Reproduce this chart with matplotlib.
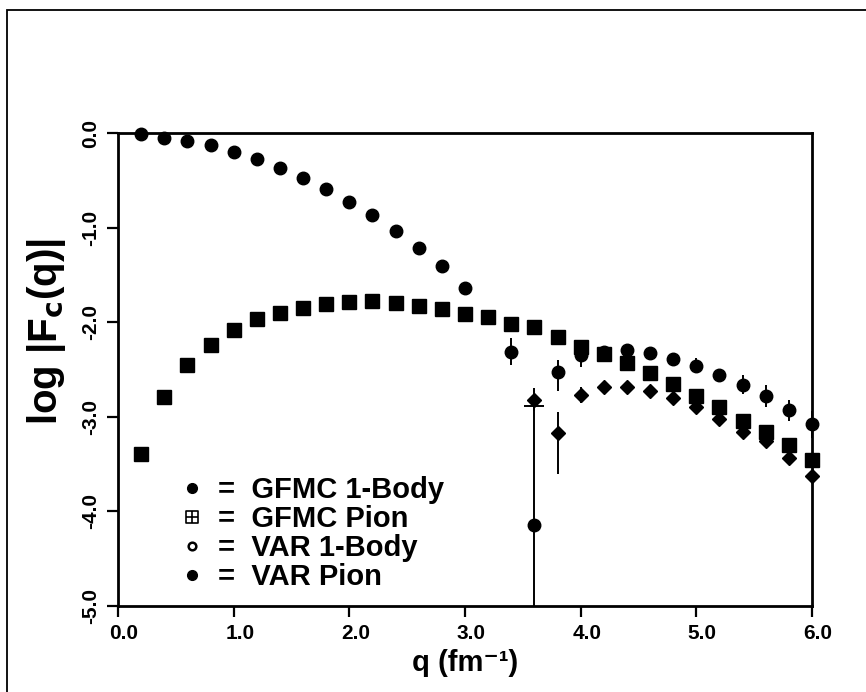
import numpy as np
import matplotlib
matplotlib.use("Agg")
import matplotlib.pyplot as plt
import matplotlib.transforms as mtransforms
from matplotlib.lines import Line2D
from matplotlib.path import Path
from matplotlib.patches import Rectangle

plt.rcParams['font.family'] = ['Liberation Sans', 'DejaVu Sans']
plt.rcParams['font.weight'] = 'bold'

# ---------------- data ----------------
q = [0.2, 0.4, 0.6, 0.8, 1.0, 1.2, 1.4, 1.6, 1.8, 2.0,
     2.2, 2.4, 2.6, 2.8, 3.0, 3.2, 3.4, 3.6, 3.8, 4.0,
     4.2, 4.4, 4.6, 4.8, 5.0, 5.2, 5.4, 5.6, 5.8, 6.0]

gfmc_1body = [-0.01, -0.05, -0.08, -0.13, -0.20, -0.27, -0.37, -0.48, -0.59, -0.73,
              -0.87, -1.04, -1.22, -1.41, -1.64, -1.95, -2.31, -4.14, -2.53, -2.35,
              -2.31, -2.29, -2.33, -2.39, -2.46, -2.56, -2.66, -2.78, -2.93, -3.08]
gfmc_1body_err_lo = [0, 0, 0, 0, 0, 0, 0, 0, 0, 0,
                     0, 0, 0, 0, 0, 0, 0.14, 1.25, 0.20, 0.12,
                     0.05, 0.04, 0.04, 0.05, 0.08, 0.05, 0.10, 0.12, 0.11, 0.14]
gfmc_1body_err_hi = [0, 0, 0, 0, 0, 0, 0, 0, 0, 0,
                     0, 0, 0, 0, 0, 0, 0.14, 1.25, 0.13, 0.12,
                     0.05, 0.04, 0.04, 0.05, 0.08, 0.05, 0.10, 0.12, 0.11, 0.14]

gfmc_pion = [-3.39, -2.79, -2.45, -2.24, -2.08, -1.97, -1.90, -1.85, -1.81, -1.79,
             -1.78, -1.80, -1.83, -1.86, -1.91, -1.95, -2.02, -2.05, -2.16, -2.26,
             -2.34, -2.43, -2.54, -2.65, -2.78, -2.90, -3.04, -3.16, -3.30, -3.46]

q_var_1body = [0.2, 0.4, 0.6, 0.8, 1.0, 1.2, 1.4, 1.6, 1.8, 2.0,
               2.2, 2.4, 2.6, 2.8, 3.0]
var_1body = [-0.01, -0.05, -0.08, -0.13, -0.20, -0.27, -0.37, -0.48, -0.59, -0.73,
             -0.87, -1.04, -1.22, -1.41, -1.64]

q_var_pion = [3.6, 3.8, 4.0, 4.2, 4.4, 4.6, 4.8, 5.0, 5.2, 5.4, 5.6, 5.8, 6.0]
var_pion = [-2.82, -3.17, -2.77, -2.69, -2.68, -2.73, -2.80, -2.90, -3.02, -3.16,
            -3.26, -3.44, -3.63]
var_pion_err_lo = [0.12, 0.43, 0.08, 0.04, 0.04, 0.05, 0.06, 0.05, 0.05, 0.05,
                   0.05, 0.06, 0.06]
var_pion_err_hi = [0.12, 0.22, 0.08, 0.04, 0.04, 0.05, 0.06, 0.05, 0.05, 0.05,
                   0.05, 0.06, 0.06]

x_ticks = [0, 1, 2, 3, 4, 5, 6]
x_ticklabels = ['0.0', '1.0', '2.0', '3.0', '4.0', '5.0', '6.0']
y_ticks = [0, -1, -2, -3, -4, -5]
y_ticklabels = ['0.0', '-1.0', '-2.0', '-3.0', '-4.0', '-5.0']

legend_labels = ['=  GFMC 1-Body', '=  GFMC Pion', '=  VAR 1-Body', '=  VAR Pion']

# ---------------- figure ----------------
fig = plt.figure(figsize=(8.66, 6.92), dpi=100)
ax = fig.add_axes([0.1363, 0.1243, 0.8013, 0.6835])

qa = np.array(q)
g1 = np.array(gfmc_1body)
elo = np.array(gfmc_1body_err_lo)
ehi = np.array(gfmc_1body_err_hi)
has_err = (elo > 0) | (ehi > 0)
big = elo > 1.0
small = has_err & ~big

# error bars (clipped to the axes)
ax.errorbar(qa[small], g1[small], yerr=[elo[small], ehi[small]], fmt='none',
            ecolor='black', elinewidth=1.4, capsize=0)
ax.errorbar(qa[big], g1[big], yerr=[elo[big], ehi[big]], fmt='none',
            ecolor='black', elinewidth=1.4, capsize=7, capthick=1.4)
ax.errorbar(q_var_pion, var_pion, yerr=[var_pion_err_lo, var_pion_err_hi], fmt='none',
            ecolor='black', elinewidth=1.4, capsize=0)

# markers
ax.plot(q_var_1body, var_1body, 'o', ms=6, mfc='white', mec='black', mew=1.2,
        clip_on=False, zorder=3)
ax.plot(q, gfmc_pion, 's', ms=9.5, mfc='black', mec='black', clip_on=False, zorder=4)
ax.plot(q_var_pion, var_pion, 'D', ms=7, mfc='black', mec='black', clip_on=False, zorder=4)
ax.plot(q, gfmc_1body, 'o', ms=9, mfc='black', mec='black', clip_on=False, zorder=5)

ax.set_xlim(0, 6)
ax.set_ylim(-5, 0)
ax.set_xticks(x_ticks)
ax.set_xticklabels(x_ticklabels, fontsize=15, fontweight='bold')
ax.set_yticks(y_ticks)
ax.set_yticklabels(y_ticklabels, fontsize=15, fontweight='bold', rotation=90, va='center')
ax.tick_params(direction='out', length=8, width=1.6, pad=5)

# the scanned x tick labels sit slightly right of their ticks
shift = mtransforms.ScaledTranslation(6 / 100, 0, fig.dpi_scale_trans)
for lab in ax.get_xticklabels():
    lab.set_transform(lab.get_transform() + shift)

for sp in ax.spines.values():
    sp.set_linewidth(2.0)

ax.set_xlabel('q (fm\u207b\u00b9)', fontsize=21, fontweight='bold', labelpad=4)
ax.set_ylabel(r'log |F$_{\mathbf{c}}$(q)|', fontsize=29, fontweight='bold')
ax.yaxis.set_label_coords(-0.072, 0.58)

# legend: box-plus marker for GFMC Pion
bp_verts = [(-1, -1), (1, -1), (1, 1), (-1, 1), (-1, -1),
            (0, -1), (0, 1), (-1, 0), (1, 0)]
bp_codes = [Path.MOVETO, Path.LINETO, Path.LINETO, Path.LINETO, Path.CLOSEPOLY,
            Path.MOVETO, Path.LINETO, Path.MOVETO, Path.LINETO]
boxplus = Path(bp_verts, bp_codes)

handles = [
    Line2D([], [], ls='none', marker='o', ms=7, mfc='black', mec='black'),
    Line2D([], [], ls='none', marker=boxplus, ms=8, mfc='none', mec='black', mew=1.2),
    Line2D([], [], ls='none', marker='o', ms=5.5, mfc='white', mec='black', mew=1.8),
    Line2D([], [], ls='none', marker='o', ms=7, mfc='black', mec='black'),
]
ax.legend(handles, legend_labels, loc='upper left', bbox_to_anchor=(0.087, 0.275),
          frameon=False, prop={'weight': 'bold', 'size': 21},
          handlelength=0.9, handletextpad=0.45, labelspacing=0.04, borderpad=0,
          borderaxespad=0)

# scanned page frame (left and top edges)
fig.add_artist(Rectangle((0.008, -0.2), 1.5, 0.2 + 0.986, transform=fig.transFigure,
                         fill=False, edgecolor='black', linewidth=1.3))

fig.savefig('out.png', dpi=100)
